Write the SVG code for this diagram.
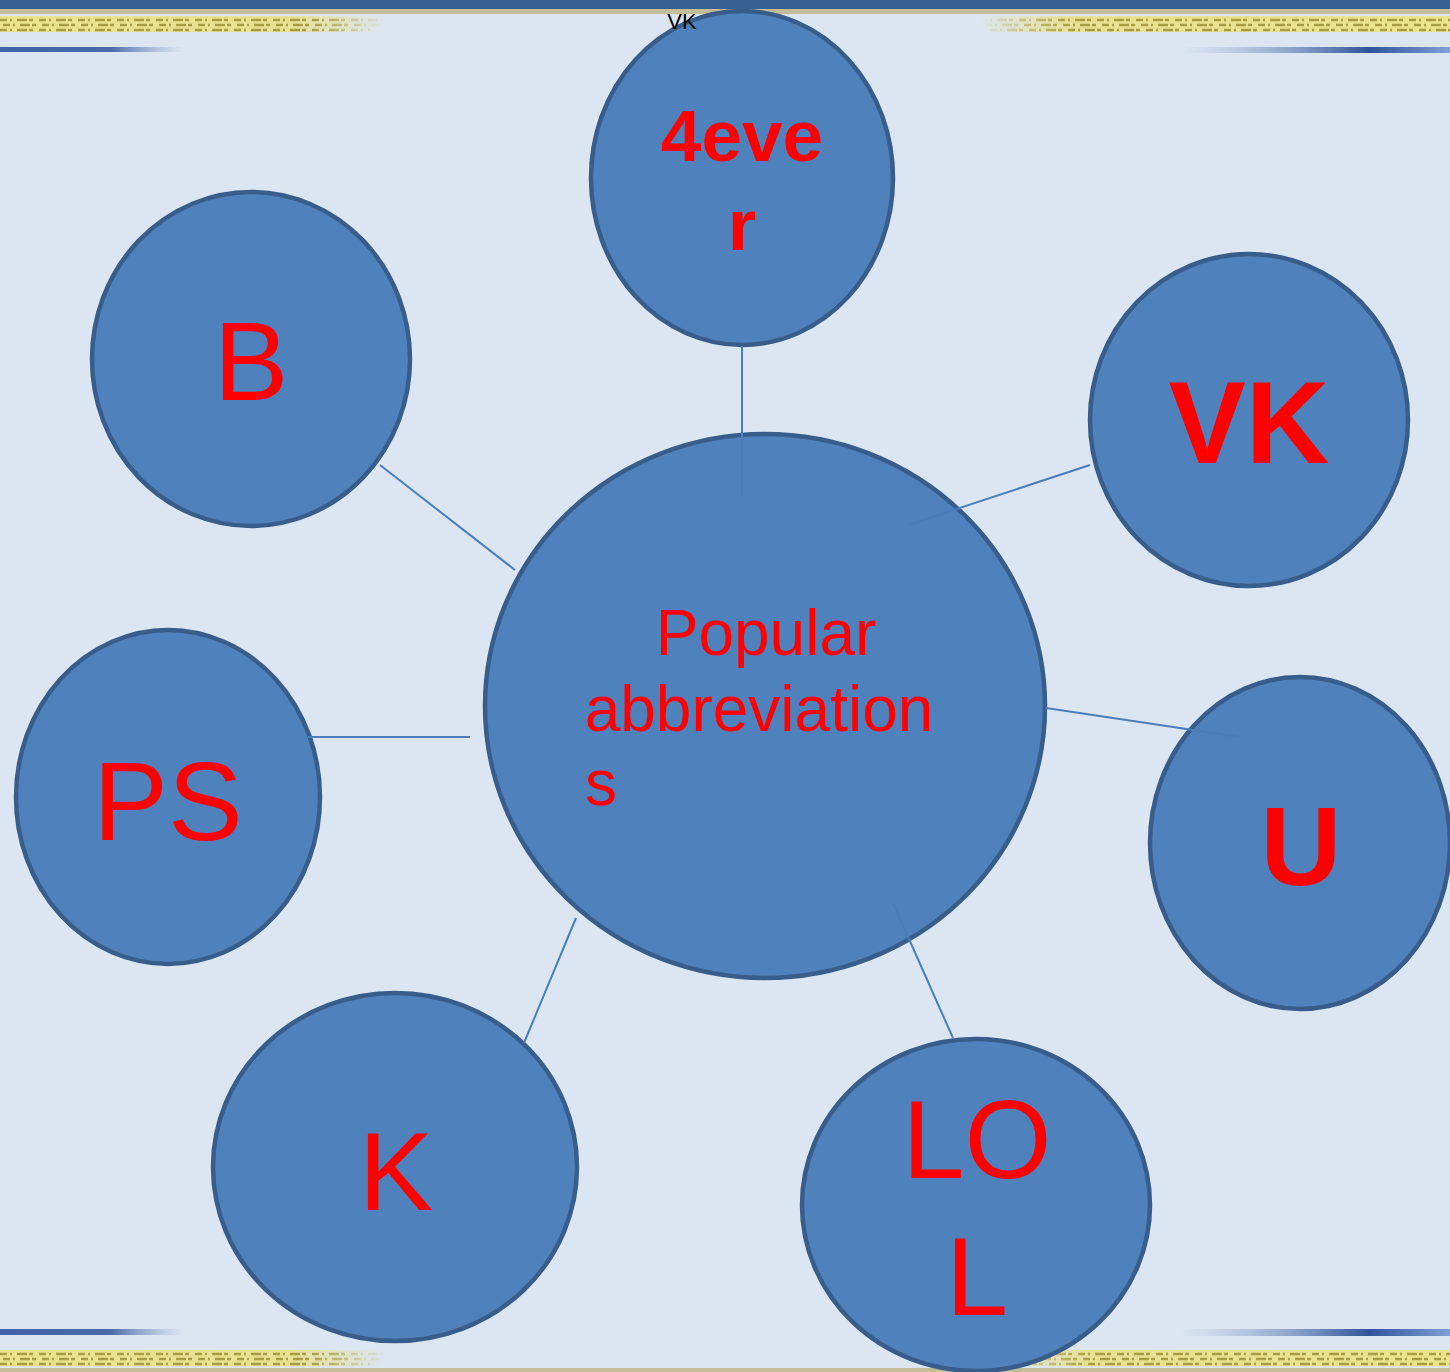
<svg xmlns="http://www.w3.org/2000/svg" width="1450" height="1372" viewBox="0 0 1450 1372">
<defs>
<linearGradient id="gl" x1="0" y1="0" x2="1" y2="0"><stop offset="0" stop-color="#ece38c"/><stop offset="0.75" stop-color="#e9e092"/><stop offset="1" stop-color="#e9e092" stop-opacity="0"/></linearGradient>
<linearGradient id="gr" x1="1" y1="0" x2="0" y2="0"><stop offset="0" stop-color="#ece38c"/><stop offset="0.8" stop-color="#e9e092"/><stop offset="1" stop-color="#e9e092" stop-opacity="0"/></linearGradient>
<linearGradient id="bl" x1="0" y1="0" x2="1" y2="0"><stop offset="0" stop-color="#3f63a8"/><stop offset="0.6" stop-color="#4a6aa8"/><stop offset="1" stop-color="#8aa0c8" stop-opacity="0"/></linearGradient>
<linearGradient id="br" x1="1" y1="0" x2="0" y2="0"><stop offset="0" stop-color="#7f9fd6"/><stop offset="0.3" stop-color="#2f549c"/><stop offset="1" stop-color="#8aa0c8" stop-opacity="0"/></linearGradient>
<linearGradient id="sl" x1="0" y1="0" x2="1" y2="0"><stop offset="0" stop-color="#a99c45"/><stop offset="0.8" stop-color="#a99c45"/><stop offset="1" stop-color="#a99c45" stop-opacity="0"/></linearGradient>
<linearGradient id="sr" x1="1" y1="0" x2="0" y2="0"><stop offset="0" stop-color="#a99c45"/><stop offset="0.8" stop-color="#a99c45"/><stop offset="1" stop-color="#a99c45" stop-opacity="0"/></linearGradient>
</defs>
<style>
.node{fill:#4f81bd;stroke:#385d8a;stroke-width:4.5}
.conn{stroke:#4a7ebb;stroke-width:2;fill:none}
.lbl{fill:#ff0000;font-family:"Liberation Sans",Arial,sans-serif;text-anchor:middle}
.b{font-weight:bold}
.spk{fill:none;stroke-width:2.5;stroke-dasharray:7 3 2 5 10 2 4 6}
</style>
<rect x="0" y="0" width="1450" height="1372" fill="#dce6f2"/>
<rect x="0" y="0" width="1450" height="9" fill="#366092"/>
<rect x="0" y="9" width="1450" height="5" fill="#c4bd97"/>
<rect x="0" y="1368" width="1450" height="4" fill="#c4bd97"/>
<g id="decor">
<rect x="0" y="16" width="385" height="16" fill="url(#gl)"/>
<path class="spk" d="M0 20H385M3 25H380M0 30H370" stroke="url(#sl)"/>
<rect x="978" y="16" width="472" height="16" fill="url(#gr)"/>
<path class="spk" d="M980 20H1450M985 25H1450M990 30H1450" stroke="url(#sr)"/>
<rect x="0" y="47" width="185" height="5" fill="url(#bl)"/>
<rect x="1180" y="47" width="270" height="6" fill="url(#br)"/>
<rect x="0" y="1329" width="185" height="6" fill="url(#bl)"/>
<rect x="1180" y="1329" width="270" height="7" fill="url(#br)"/>
<rect x="0" y="1350" width="385" height="16" fill="url(#gl)"/>
<path class="spk" d="M0 1354H385M3 1359H380M0 1364H370" stroke="url(#sl)"/>
<rect x="1000" y="1350" width="450" height="16" fill="url(#gr)"/>
<path class="spk" d="M1000 1354H1450M1005 1359H1450M1010 1364H1450" stroke="url(#sr)"/>
</g>
<g id="n-center"><ellipse class="node" cx="765" cy="706" rx="280" ry="272"/>
<text class="lbl" font-size="64" x="766" y="655">Popular</text>
<text class="lbl" font-size="64" x="759" y="731">abbreviation</text>
<text class="lbl" font-size="64" x="601" y="805">s</text></g>
<g id="n-4ever"><ellipse class="node" cx="742" cy="178" rx="151" ry="167"/>
<text class="lbl b" font-size="73" x="742" y="161">4eve</text>
<text class="lbl b" font-size="73" x="742" y="250">r</text></g>
<g id="n-b"><ellipse class="node" cx="251" cy="359" rx="159" ry="167"/>
<text class="lbl" font-size="112" x="251" y="400">B</text></g>
<g id="n-vk"><ellipse class="node" cx="1249" cy="420" rx="159" ry="166"/>
<text class="lbl b" font-size="116" x="1249" y="463">VK</text></g>
<g id="n-ps"><ellipse class="node" cx="168" cy="797" rx="152" ry="167"/>
<text class="lbl" font-size="112" x="168" y="840">PS</text></g>
<g id="n-u"><ellipse class="node" cx="1300" cy="843" rx="150" ry="166"/>
<text class="lbl b" font-size="112" x="1301" y="885">U</text></g>
<g id="n-k"><ellipse class="node" cx="395" cy="1167" rx="182" ry="174"/>
<text class="lbl" font-size="112" x="396" y="1210">K</text></g>
<g id="n-lol"><ellipse class="node" cx="976" cy="1205" rx="174" ry="166"/>
<text class="lbl" font-size="112" x="977" y="1178">LO</text>
<text class="lbl" font-size="112" x="977" y="1315">L</text></g>
<g id="connectors">
<line class="conn" x1="742" y1="346" x2="742" y2="495"/>
<line class="conn" x1="380" y1="465" x2="515" y2="570"/>
<line class="conn" x1="1090" y1="465" x2="908" y2="525"/>
<line class="conn" x1="308" y1="737" x2="470" y2="737"/>
<line class="conn" x1="1046" y1="708" x2="1240" y2="737"/>
<line class="conn" x1="576" y1="918" x2="524" y2="1043"/>
<line class="conn" x1="893" y1="903" x2="953" y2="1038"/>
</g>
<text x="682" y="29" font-family="Liberation Sans,Arial,sans-serif" font-size="22" text-anchor="middle" fill="#000">VK</text>
</svg>
